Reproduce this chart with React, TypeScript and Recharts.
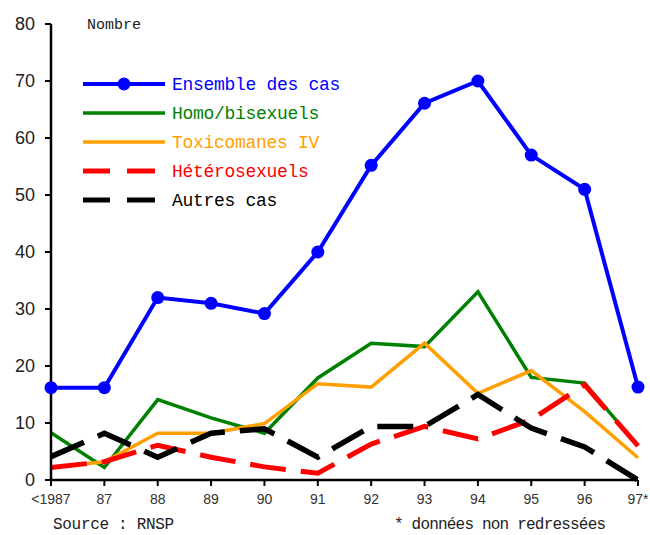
import React from 'react';
import { LineChart, Line, XAxis, YAxis, Customized } from 'recharts';

// ---------------------------------------------------------------------------
// Data
// ---------------------------------------------------------------------------

const years = ['<1987', '87', '88', '89', '90', '91', '92', '93', '94', '95', '96', '97*'];

const ensemble = [16.2, 16.2, 32, 31, 29.2, 40, 55.2, 66.1, 70, 57, 51, 16.3];
const homoBisexuels = [8.3, 2.2, 14.1, 10.9, 8.2, 17.9, 24, 23.4, 33, 18, 17, 6];
const toxicomanes = [2.2, 3.2, 8.2, 8.2, 9.9, 16.9, 16.3, 24, 15.2, 19.2, 12, 3.9];
const heterosexuels = [2.2, 3.2, 6.1, 4, 2.3, 1.2, 6.3, 9.4, 7.2, 10.6, 16.7, 6];
const autres = [4.1, 8.2, 4, 8.2, 9, 4, 9.4, 9.4, 15, 9.1, 5.8, 0];

const yTicks = [0, 10, 20, 30, 40, 50, 60, 70, 80];

const chartData = years.map((year, i) => ({
  year,
  ensemble: ensemble[i],
  homo: homoBisexuels[i],
  toxico: toxicomanes[i],
  hetero: heterosexuels[i],
  autres: autres[i],
}));

// ---------------------------------------------------------------------------
// Styling
// ---------------------------------------------------------------------------

const MONO = '"Liberation Mono", "DejaVu Sans Mono", monospace';
const SANS = '"Liberation Sans", Arial, sans-serif';

const legendItems = [
  { label: 'Ensemble des cas', color: '#0000FF', dashed: false, dot: true, width: 4 },
  { label: 'Homo/bisexuels', color: '#008000', dashed: false, dot: false, width: 3.5 },
  { label: 'Toxicomanes IV', color: '#FFA000', dashed: false, dot: false, width: 3.5 },
  { label: 'Hétérosexuels', color: '#FF0000', dashed: true, dot: false, width: 5 },
  { label: 'Autres cas', color: '#000000', dashed: true, dot: false, width: 5 },
];

// legend block drawn straight into the svg so it doesn't eat plot space
const LegendBlock = () => (
  <g transform="translate(83, 84)">
    {legendItems.map((item, i) => {
      const y = i * 29;
      return (
        <g key={item.label}>
          {item.dashed ? (
            <g>
              <line x1={0} y1={y} x2={27} y2={y} stroke={item.color} strokeWidth={item.width} />
              <line x1={44} y1={y} x2={72} y2={y} stroke={item.color} strokeWidth={item.width} />
            </g>
          ) : (
            <line x1={0} y1={y} x2={82} y2={y} stroke={item.color} strokeWidth={item.width} />
          )}
          {item.dot && <circle cx={41} cy={y} r={6.5} fill={item.color} />}
          <text
            x={89}
            y={y + 6}
            fill={item.color}
            fontFamily={MONO}
            fontSize={18}
            letterSpacing={-0.3}
          >
            {item.label}
          </text>
        </g>
      );
    })}
  </g>
);

const Annotations = () => (
  <g>
    <text x={87} y={29} fontFamily={MONO} fontSize={15} fill="#222">
      Nombre
    </text>
    <text x={53} y={529} fontFamily={MONO} fontSize={16} fill="#222" letterSpacing={-0.3}>
      Source : RNSP
    </text>
    <text x={394} y={529} fontFamily={MONO} fontSize={16} fill="#222" letterSpacing={-0.8}>
      * données non redressées
    </text>
    <LegendBlock />
  </g>
);

// ---------------------------------------------------------------------------
// Component
// ---------------------------------------------------------------------------

const App: React.FC = () => (
  <div style={{ position: 'absolute', left: 0, top: 0, background: '#fff' }}>
    <LineChart
      width={650}
      height={535}
      data={chartData}
      margin={{ top: 24, right: 12, bottom: 25, left: 0 }}
    >
      <XAxis
        dataKey="year"
        padding={{ left: 0, right: 0 }}
        interval={0}
        height={30}
        tickSize={6}
        tickMargin={8}
        axisLine={{ stroke: '#000', strokeWidth: 2.5 }}
        tickLine={{ stroke: '#000', strokeWidth: 2 }}
        tick={{ fill: '#333', fontSize: 14, fontFamily: SANS }}
      />
      <YAxis
        domain={[0, 80]}
        ticks={yTicks}
        width={51}
        tickSize={6}
        tickMargin={10}
        axisLine={{ stroke: '#000', strokeWidth: 2.5 }}
        tickLine={{ stroke: '#000', strokeWidth: 2 }}
        tick={{ fill: '#222', fontSize: 18, fontFamily: SANS }}
      />
      <Line
        dataKey="homo"
        stroke="#008000"
        strokeWidth={3.5}
        dot={false}
        isAnimationActive={false}
      />
      <Line
        dataKey="toxico"
        stroke="#FFA000"
        strokeWidth={3.5}
        dot={false}
        isAnimationActive={false}
      />
      <Line
        dataKey="hetero"
        stroke="#FF0000"
        strokeWidth={5}
        strokeDasharray="36 15"
        dot={false}
        isAnimationActive={false}
      />
      <Line
        dataKey="autres"
        stroke="#000000"
        strokeWidth={5.5}
        strokeDasharray="36 15"
        dot={false}
        isAnimationActive={false}
      />
      <Line
        dataKey="ensemble"
        stroke="#0000FF"
        strokeWidth={4}
        dot={{ r: 6.5, fill: '#0000FF', stroke: '#0000FF', strokeWidth: 0 }}
        isAnimationActive={false}
      />
      <Customized component={Annotations} />
    </LineChart>
  </div>
);

export default App;
